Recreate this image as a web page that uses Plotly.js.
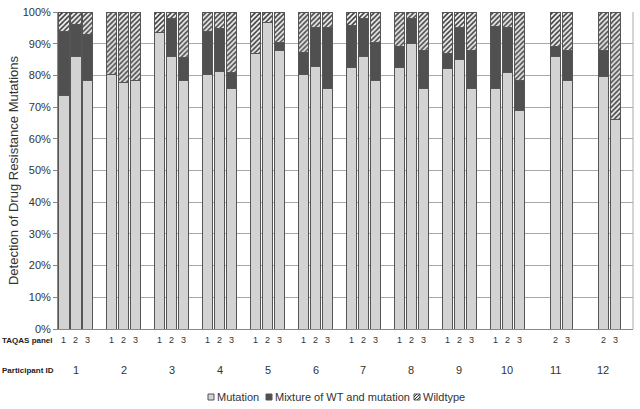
<!DOCTYPE html>
<html>
<head>
<meta charset="utf-8">
<script src="https://cdn.plot.ly/plotly-3.0.1.min.js"></script>
<style>html,body{margin:0;padding:0;background:#fff}#chart{width:640px;height:409px}</style>
</head>
<body>
<div id="chart"></div>
<script>
// Data (percent)
const participantIds = [1,2,3,4,5,6,7,8,9,10,11,12];
const barParticipant = [1,1,1, 2,2,2, 3,3,3, 4,4,4, 5,5,5, 6,6,6, 7,7,7, 8,8,8, 9,9,9, 10,10,10, 11,11, 12,12];
const barPanel       = [1,2,3, 1,2,3, 1,2,3, 1,2,3, 1,2,3, 1,2,3, 1,2,3, 1,2,3, 1,2,3, 1,2,3, 2,3, 2,3];
const mutation = [73.6,86.0,78.4, 80.3,77.8,78.4, 93.5,86.0,78.4, 80.4,81.3,75.9, 87.0,96.8,87.8, 80.4,82.7,75.9, 82.4,86.0,78.4, 82.4,90.0,75.8, 82.2,84.9,75.8, 75.8,80.9,68.9, 86.0,78.4, 79.6,66.2];
const mixture  = [20.1,10.2,14.6, 0,0,0, 0,12.0,7.2, 13.3,13.5,5.1, 0,0,2.5, 6.8,12.3,19.3, 13.2,12.1,12.1, 6.8,8.0,12.2, 4.8,10.1,12.2, 19.7,14.1,9.6, 3.0,9.6, 8.4,0];
const wildtype = [6.3,3.8,7.0, 19.7,22.2,21.6, 6.5,2.0,14.4, 6.3,5.2,19.0, 13.0,3.2,9.7, 12.8,5.0,4.8, 4.4,1.9,9.5, 10.8,2.0,12.0, 13.0,5.0,12.0, 4.5,5.0,21.5, 11.0,12.0, 12.0,33.8];
const seriesNames = ['Mutation','Mixture of WT and mutation','Wildtype'];
const yTickVals = [0,10,20,30,40,50,60,70,80,90,100];
const yTickText = ['0%','10%','20%','30%','40%','50%','60%','70%','80%','90%','100%'];

// slot positions: 4 slots per participant (3 panels + gap)
const slot = barParticipant.map((p,i)=> (p-1)*4 + (barPanel[i]-1));
const font = 'Liberation Sans, Arial, sans-serif';
const line = {color:'#555', width:1};
const colMut = '#d3d3d3', colMix = '#505050';

const traces = [
  {type:'bar', name:seriesNames[0], x:slot, y:mutation, width:0.84,
   marker:{color:colMut, line:line}},
  {type:'bar', name:seriesNames[1], x:slot, y:mixture, width:0.84,
   marker:{color:colMix, line:line}},
  {type:'bar', name:seriesNames[2], x:slot, y:wildtype, width:0.84,
   marker:{color:'#f0f0f0', line:line,
     pattern:{shape:'/', fgcolor:'#3a3a3a', bgcolor:'#f0f0f0', size:3.5, solidity:0.45}}}
];

// plot area in px: x 58..633, y 12..329
const PX = px => (px-58)/575, PY = py => (329-py)/317;

const annotations = [];
slot.forEach((s,i)=>{
  annotations.push({xref:'x', yref:'paper', x:s, y:PY(340), text:String(barPanel[i]),
    showarrow:false, font:{family:font, size:9, color:'#333'}, yanchor:'middle'});
});
participantIds.forEach(p=>{
  annotations.push({xref:'x', yref:'paper', x:(p-1)*4+1, y:PY(370), text:String(p),
    showarrow:false, font:{family:font, size:11, color:'#333'}, yanchor:'middle'});
});
annotations.push({xref:'paper', yref:'paper', x:PX(0), y:PY(340), xanchor:'left', yanchor:'middle',
  text:'<b>TAQAS panel</b>', showarrow:false, font:{family:font, size:8, color:'#222'}});
annotations.push({xref:'paper', yref:'paper', x:PX(0), y:PY(370), xanchor:'left', yanchor:'middle',
  text:'<b>Participant ID</b>', showarrow:false, font:{family:font, size:8, color:'#222'}});

// custom compact legend
const legY = 397;
const legItems = [
  {sx:208, tx:215, fill:colMut, hatch:false},
  {sx:266, tx:273, fill:colMix, hatch:false},
  {sx:414, tx:421, fill:'#f0f0f0', hatch:true}
];
const shapes = [{type:'line', xref:'paper', yref:'paper', x0:1, x1:1, y0:0, y1:1, line:{color:'#aaa', width:1}}];
legItems.forEach((it,i)=>{
  const s = 6, y0 = legY + s/2;
  shapes.push({type:'rect', xref:'paper', yref:'paper', x0:PX(it.sx), x1:PX(it.sx+s), y0:PY(y0), y1:PY(y0-s),
    fillcolor:it.fill, line:{color:'#555', width:1}});
  if(it.hatch){
    shapes.push({type:'line', xref:'paper', yref:'paper', x0:PX(it.sx), y0:PY(y0), x1:PX(it.sx+s), y1:PY(y0-s), line:{color:'#333', width:1}});
    shapes.push({type:'line', xref:'paper', yref:'paper', x0:PX(it.sx), y0:PY(y0-3), x1:PX(it.sx+3), y1:PY(y0-s), line:{color:'#333', width:1}});
    shapes.push({type:'line', xref:'paper', yref:'paper', x0:PX(it.sx+3), y0:PY(y0), x1:PX(it.sx+s), y1:PY(y0-3), line:{color:'#333', width:1}});
  }
  annotations.push({xref:'paper', yref:'paper', x:PX(it.tx), y:PY(legY), xanchor:'left', yanchor:'middle',
    text:seriesNames[i], showarrow:false, font:{family:font, size:11, color:'#333'}});
});

const layout = {
  width:640, height:409,
  margin:{l:58, r:7, t:12, b:80},
  barmode:'stack',
  paper_bgcolor:'#fff', plot_bgcolor:'#fff',
  showlegend:false,
  xaxis:{range:[-0.5,47.5], showticklabels:false, showgrid:false, zeroline:false,
    showline:true, linecolor:'#888', linewidth:1, mirror:false, fixedrange:true},
  yaxis:{range:[0,100], tickvals:yTickVals, ticktext:yTickText, showgrid:true, gridcolor:'#a8a8a8',
    gridwidth:1, zeroline:false, showline:true, linecolor:'#888', linewidth:1, ticks:'outside',
    ticklen:4, tickcolor:'#888', tickfont:{family:font, size:11, color:'#333'},
    title:{text:'Detection of Drug Resistance Mutations', font:{family:font, size:13, color:'#333'}, standoff:1}},
  shapes:shapes,
  annotations:annotations,
  font:{family:font}
};
Plotly.newPlot('chart', traces, layout, {displayModeBar:false, staticPlot:true});
</script>
</body>
</html>
